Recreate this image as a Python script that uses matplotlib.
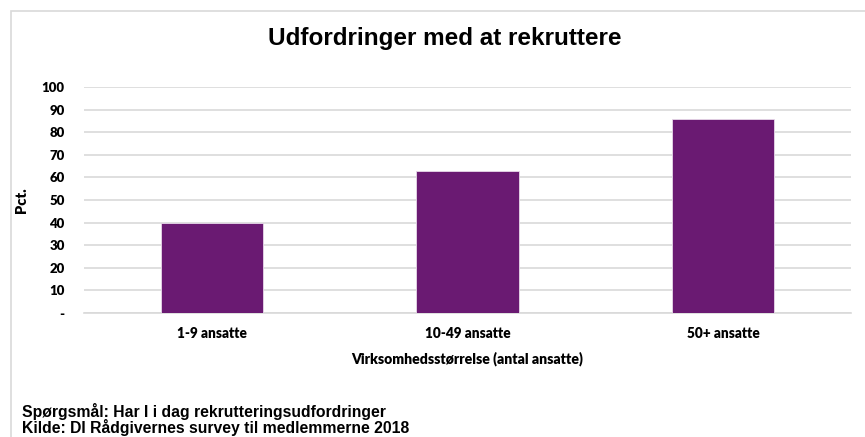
import matplotlib
matplotlib.use("Agg")
import matplotlib.pyplot as plt
from matplotlib.patches import Rectangle

# data
categories = ["1-9 ansatte", "10-49 ansatte", "50+ ansatte"]
values = [40, 63, 86]
yticks = [0, 10, 20, 30, 40, 50, 60, 70, 80, 90, 100]
ytick_labels = ["-", "10", "20", "30", "40", "50", "60", "70", "80", "90", "100"]

bar_color = "#6a1a72"
grid_color = "#d9d9d9"
label_font = ["Lato", "DejaVu Sans"]
text_font = ["Liberation Sans", "DejaVu Sans"]

fig = plt.figure(figsize=(8.65, 4.37), dpi=100)

# light frame around the chart area
fig.patches.append(Rectangle((11 / 865, -0.1), 1.2, 1 - 11 / 437 + 0.1,
                             transform=fig.transFigure, fill=False,
                             edgecolor=grid_color, linewidth=1.2))

ax = fig.add_axes([84 / 865, 1 - 313 / 437, (851 - 84) / 865, (313 - 87) / 437])

x = range(len(categories))
ax.bar(x, values, width=0.4, color=bar_color, edgecolor="#e8d9ea", linewidth=0.6, zorder=3)

ax.set_ylim(0, 100)
ax.set_xlim(-0.5, len(categories) - 0.5)
ax.set_yticks(yticks)
ax.set_yticklabels(ytick_labels, fontfamily=label_font, fontweight="heavy", fontsize=9.5)
ax.set_xticks(list(x))
ax.set_xticklabels(categories, fontfamily=label_font, fontweight="heavy", fontsize=9.8)
ax.tick_params(axis="both", length=0)
ax.tick_params(axis="y", pad=14)
ax.tick_params(axis="x", pad=10)

ax.yaxis.grid(True, color=grid_color, linewidth=1.2, zorder=0)
ax.set_axisbelow(True)
for s in ["top", "right", "left"]:
    ax.spines[s].set_visible(False)
ax.spines["bottom"].set_color(grid_color)
ax.spines["bottom"].set_linewidth(1.2)

ax.set_ylabel("Pct.", fontfamily=label_font, fontweight="heavy", fontsize=10.5, labelpad=10)
ax.set_xlabel("Virksomhedsstørrelse (antal ansatte)", fontfamily=label_font,
              fontweight="heavy", fontsize=10.1, labelpad=8)

fig.text(445 / 865, 1 - 38 / 437, "Udfordringer med at rekruttere", ha="center", va="center",
         fontfamily=text_font, fontweight="bold", fontsize=17.5)

fig.text(22 / 865, 1 - 411 / 437, "Spørgsmål: Har I i dag rekrutteringsudfordringer",
         ha="left", va="center", fontfamily=text_font, fontweight="bold", fontsize=11.3)
fig.text(22 / 865, 1 - 427 / 437, "Kilde: DI Rådgivernes survey til medlemmerne 2018",
         ha="left", va="center", fontfamily=text_font, fontweight="bold", fontsize=11.3)

fig.savefig("out.png", dpi=100)
